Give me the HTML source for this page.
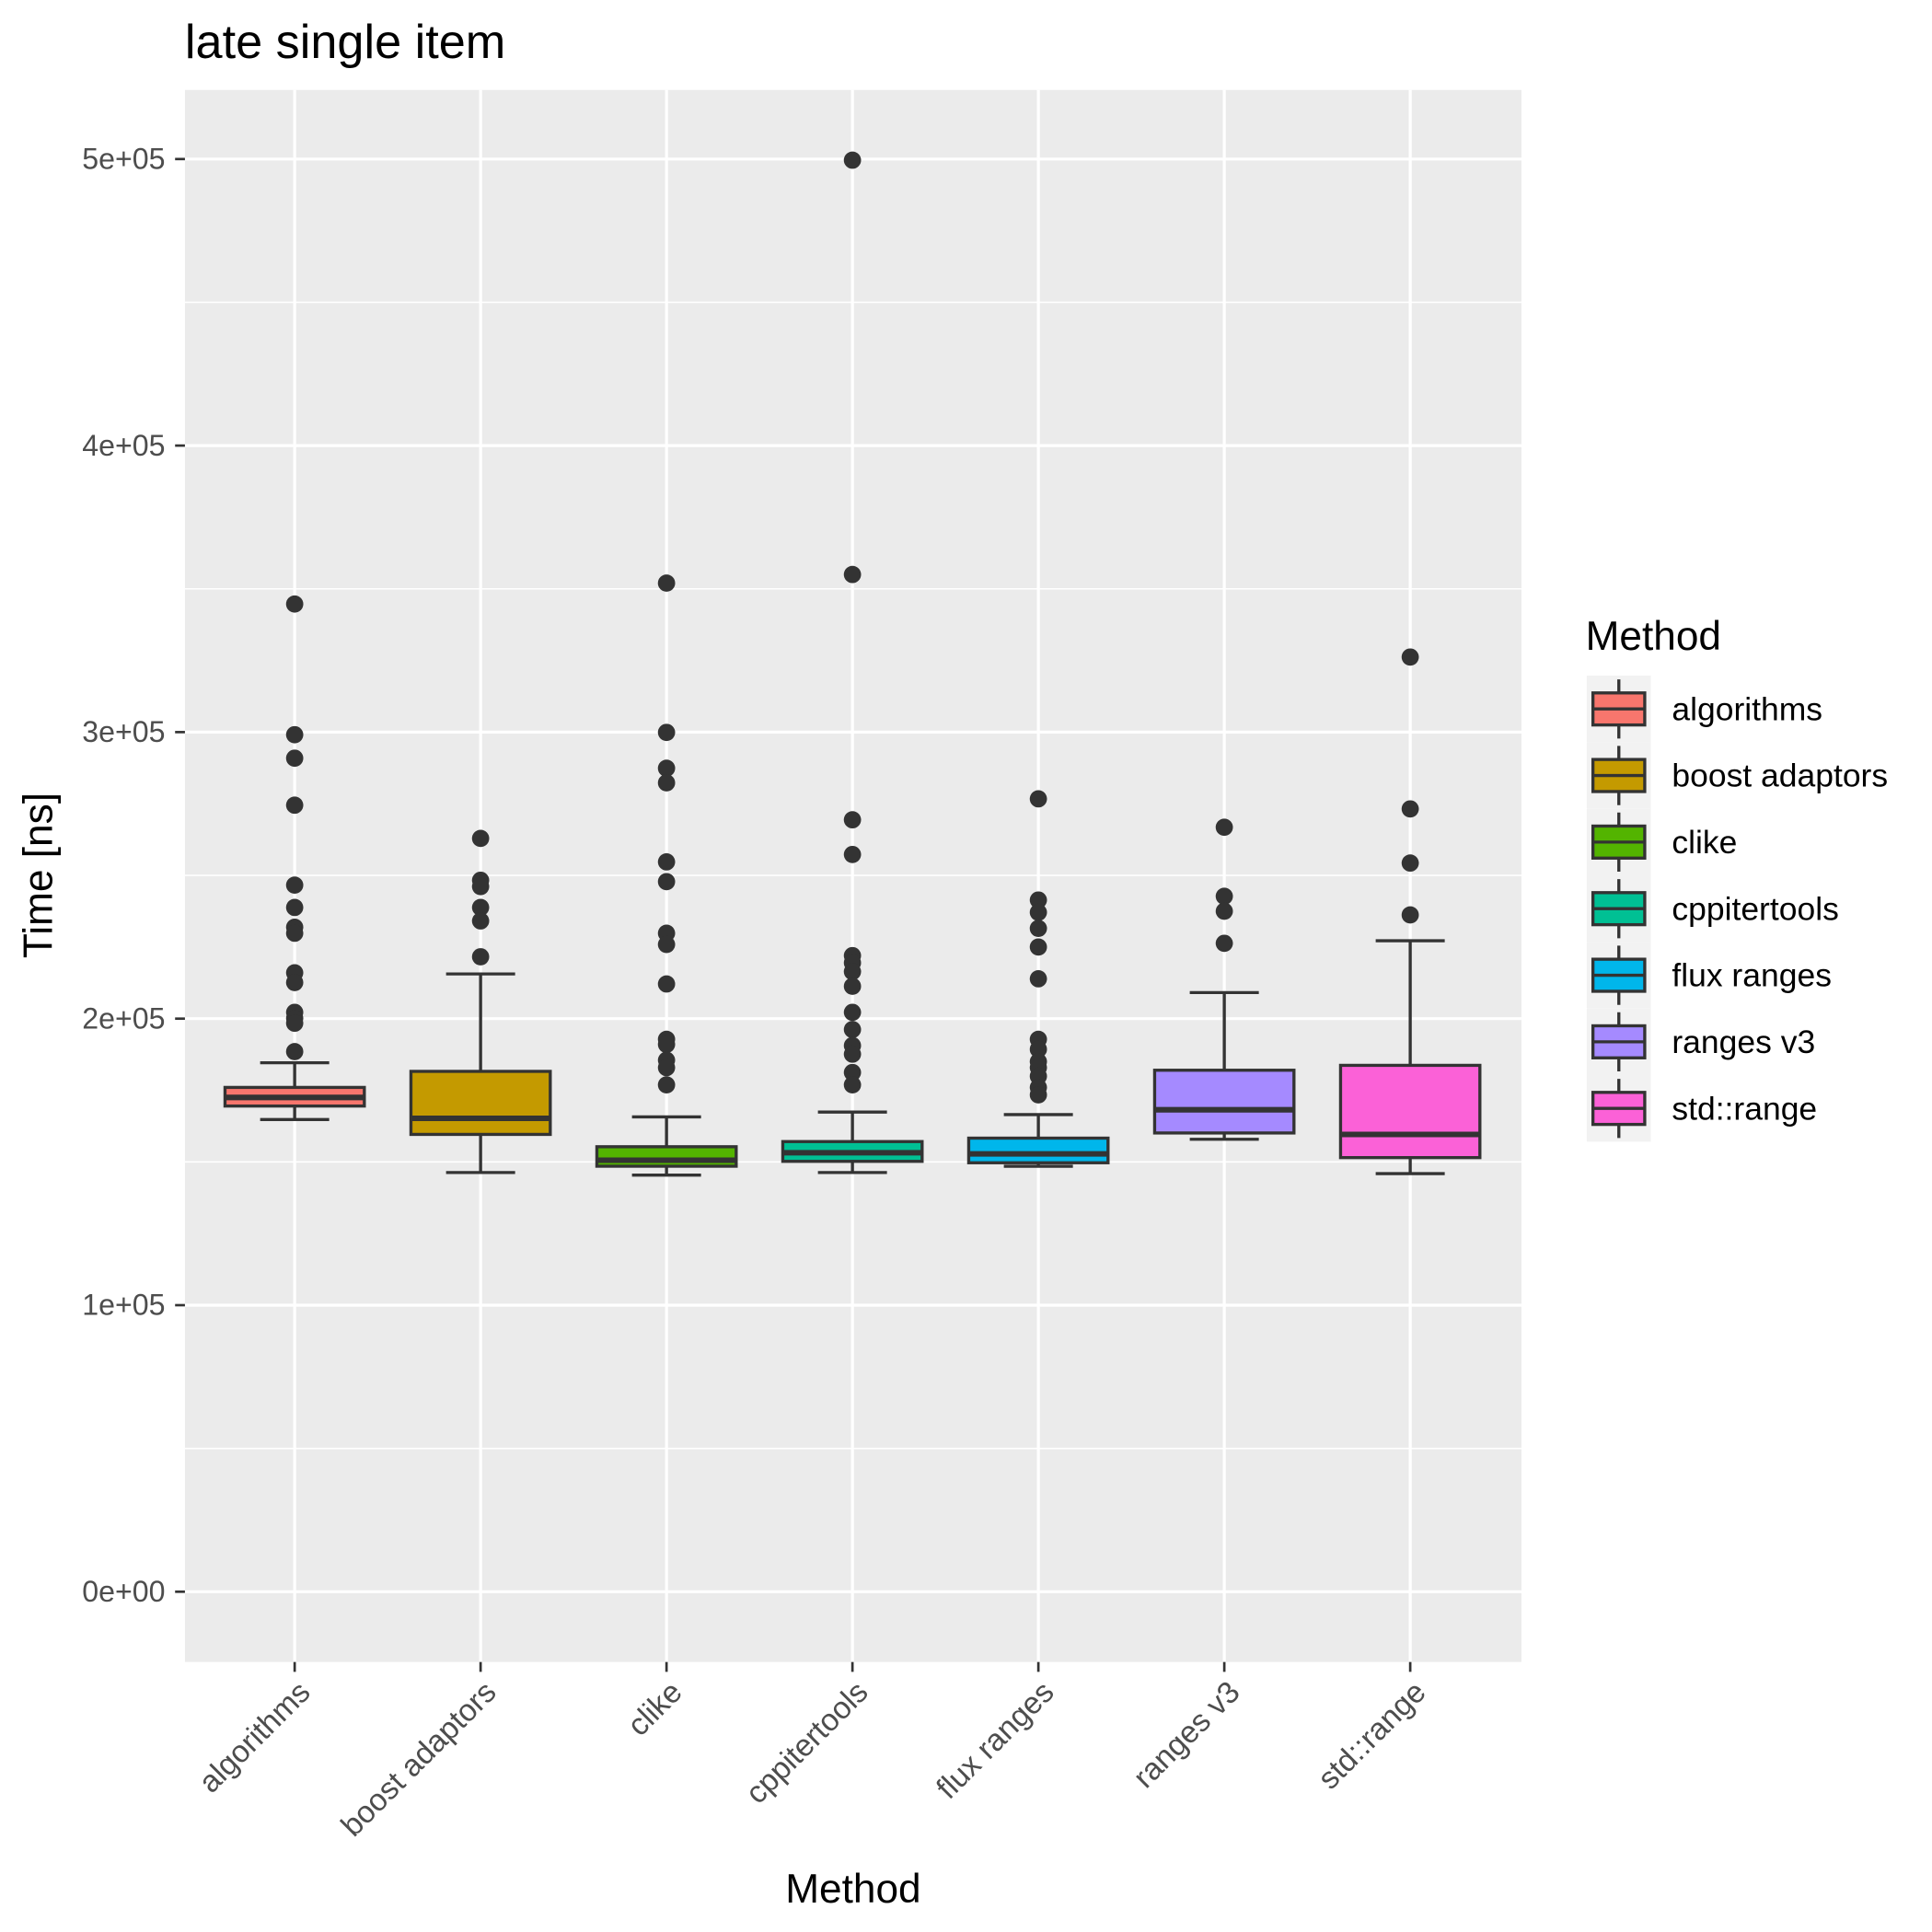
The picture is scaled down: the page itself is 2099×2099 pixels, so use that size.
<!DOCTYPE html>
<html><head><meta charset="utf-8"><style>
html,body{margin:0;padding:0;background:#fff;}
svg{display:block;font-family:"Liberation Sans",Arial,sans-serif;}
</style></head><body>
<svg id="chart" width="2099" height="2099" viewBox="0 0 1567 1567" xmlns="http://www.w3.org/2000/svg">
<rect x="0" y="0" width="1567" height="1567" fill="#fff"/>
<text x="150" y="47" font-size="39" fill="#000">late single item</text>
<rect x="150" y="73" width="1084" height="1275" fill="#EBEBEB"/>
<g id="grid"></g><g id="marks"></g><g id="axes"></g><g id="legend"></g>
<text x="692" y="1543" font-size="33" text-anchor="middle" fill="#000">Method</text>
<text transform="translate(42,710) rotate(-90)" font-size="33" text-anchor="middle" fill="#000">Time [ns]</text>
</svg>
<script>
const categories = ["algorithms","boost adaptors","clike","cppitertools","flux ranges","ranges v3","std::range"];
const colors = ["#F8766D","#C49A00","#53B400","#00C094","#00B6EB","#A58AFF","#FB61D7"];
const whiskerLow = [164800,146300,145400,146300,148500,157900,145900];
const q1 = [169500,159600,148500,150200,149700,160100,151500];
const median = [172500,165200,150600,153200,152800,168200,159600];
const q3 = [176000,181600,155300,157100,158300,182000,183700];
const whiskerHigh = [184600,215600,165700,167400,166500,209100,227200];
const outliers = [
 [344700,299100,290900,274500,246600,238800,231900,229800,216000,212600,202200,200100,198400,188500],
 [262900,248300,246100,238800,234100,221600],
 [352000,299900,287400,282300,254700,247800,229800,225900,212100,192800,191000,185500,182900,176900],
 [499600,355000,269400,257300,222000,219500,216400,211300,202200,196200,190600,187600,181200,176900],
 [276700,241400,237100,231500,225000,213900,192800,189300,185000,182900,179900,176000,173400],
 [266800,242700,237500,226300],
 [326200,273200,254300,236200]
];
const yTicks = [0,100000,200000,300000,400000,500000];
const yTickLabels = ["0e+00","1e+05","2e+05","3e+05","4e+05","5e+05"];

const NS="http://www.w3.org/2000/svg";
function mk(tag,attrs,parent){const e=document.createElementNS(NS,tag);for(const k in attrs)e.setAttribute(k,attrs[k]);parent.appendChild(e);return e;}
const y = v => 1291 - v/100000*232.4;
const xBand = i => 239 + i*150.8;
const grid=document.getElementById('grid'), marks=document.getElementById('marks'), axes=document.getElementById('axes'), legend=document.getElementById('legend');

for(let i=0;i<yTicks.length-1;i++){
  const m=(yTicks[i]+yTicks[i+1])/2;
  const l=mk('line',{x1:150,x2:1234,y1:y(m),y2:y(m),stroke:'#fff','stroke-width':1.2},grid);
  
  
}
yTicks.forEach((t,i)=>{
  const l=mk('line',{x1:150,x2:1234,y1:y(t),y2:y(t),stroke:'#fff','stroke-width':2.4},grid);
  
  
  mk('line',{x1:142,x2:150,y1:y(t),y2:y(t),stroke:'#333','stroke-width':2},axes);
  const tx=mk('text',{x:134,y:y(t)+8,'font-size':24,'text-anchor':'end',fill:'#4D4D4D'},axes);
  tx.textContent=yTickLabels[i];
  
  
});
categories.forEach((c,i)=>{
  const x=xBand(i);
  const g=mk('line',{x1:x,x2:x,y1:73,y2:1348,stroke:'#fff','stroke-width':2.4},grid);
  
  
  mk('line',{x1:x,x2:x,y1:1348,y2:1356,stroke:'#333','stroke-width':2},axes);
  const tx=mk('text',{transform:`translate(${x+14},${1374}) rotate(-45)`,'font-size':25,'text-anchor':'end',fill:'#4D4D4D'},axes);
  tx.textContent=c;
  
  
  const hw=56.5;
  const bg=mk('g',{},marks);
  
  
  mk('line',{x1:x,x2:x,y1:y(q3[i]),y2:y(whiskerHigh[i]),stroke:'#333','stroke-width':2.5},bg);
  mk('line',{x1:x,x2:x,y1:y(q1[i]),y2:y(whiskerLow[i]),stroke:'#333','stroke-width':2.5},bg);
  mk('line',{x1:x-28,x2:x+28,y1:y(whiskerHigh[i]),y2:y(whiskerHigh[i]),stroke:'#333','stroke-width':2.5},bg);
  mk('line',{x1:x-28,x2:x+28,y1:y(whiskerLow[i]),y2:y(whiskerLow[i]),stroke:'#333','stroke-width':2.5},bg);
  mk('rect',{x:x-hw,y:y(q3[i]),width:2*hw,height:y(q1[i])-y(q3[i]),fill:colors[i],stroke:'#333','stroke-width':2.5},bg);
  mk('line',{x1:x-hw,x2:x+hw,y1:y(median[i]),y2:y(median[i]),stroke:'#333','stroke-width':4.5},bg);
  outliers[i].forEach(v=>{
    const p=mk('circle',{cx:x,cy:y(v),r:7,fill:'#333'},marks);
    
    
  });
});
const lt=mk('text',{x:1286,y:527,'font-size':33,fill:'#000'},legend);
lt.textContent='Method';


categories.forEach((c,i)=>{
  const cy=575+i*54;
  const g=mk('g',{},legend);
  
  
  mk('rect',{x:1287,y:cy-27,width:52,height:54,fill:'#F2F2F2'},g);
  mk('line',{x1:1313,x2:1313,y1:cy-24,y2:cy+24,stroke:'#333','stroke-width':2.5},g);
  mk('rect',{x:1292,y:cy-13,width:42,height:26,fill:colors[i],stroke:'#333','stroke-width':2.5},g);
  mk('line',{x1:1292,x2:1334,y1:cy,y2:cy,stroke:'#333','stroke-width':2.5},g);
  const t=mk('text',{x:1356,y:cy+9,'font-size':26.5,fill:'#000'},g);
  t.textContent=c;
});
</script>
</body></html>
